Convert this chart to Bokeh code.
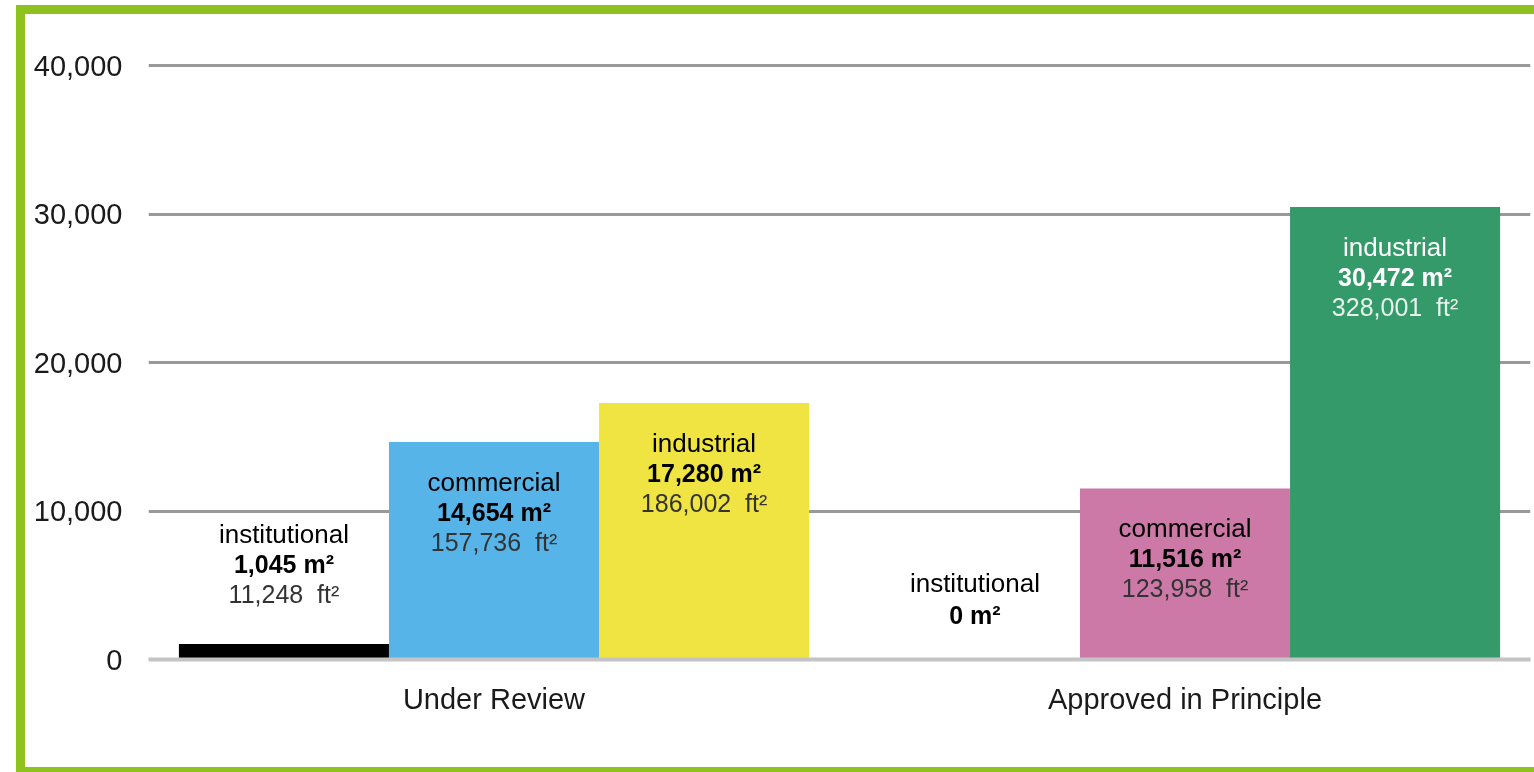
from bokeh.plotting import figure
from bokeh.models import FactorRange, FixedTicker, Span, ColumnDataSource, NumeralTickFormatter
from bokeh.transform import dodge
from bokeh.core.properties import value
from bokeh.embed import file_html
from bokeh.resources import INLINE

# ---- data ----
groups = ["Under Review", "Approved in Principle"]
types = ["institutional", "commercial", "industrial"]
under_review_m2 = [1045, 14654, 17280]
under_review_ft2 = [11248, 157736, 186002]
approved_m2 = [0, 11516, 30472]
approved_ft2 = [None, 123958, 328001]
y_ticks = [0, 10000, 20000, 30000, 40000]

# ---- style ----
under_review_colors = ["#000000", "#56b4e9", "#f0e442"]
approved_colors = ["#ffffff", "#cc79a7", "#359a69"]
under_review_text = ["#000000", "#000000", "#000000"]
approved_text = ["#000000", "#000000", "#ffffff"]
under_review_sub = ["#333333", "#333333", "#333333"]
approved_sub = ["#333333", "#333333", "#e6f2ec"]
FONT = "Liberation Sans"
BORDER = "#8dc21f"
offsets = [-0.304, 0.0, 0.304]
bar_w = 0.304

p = figure(x_range=FactorRange(*groups), y_range=(-269, 42357),
           width=1518, height=771, output_backend="svg", toolbar_location=None,
           min_border_left=123, min_border_right=13, min_border_top=16, min_border_bottom=122)
p.x_range.range_padding = 0
p.outline_line_color = None
p.background_fill_color = "white"
p.border_fill_color = "white"
p.xgrid.grid_line_color = None
p.ygrid.ticker = FixedTicker(ticks=y_ticks)
p.ygrid.grid_line_color = "#999999"
p.ygrid.grid_line_width = 3
p.yaxis.ticker = FixedTicker(ticks=y_ticks)
p.yaxis.formatter = NumeralTickFormatter(format="0,0")
for ax in (p.xaxis[0], p.yaxis[0]):
    ax.axis_line_color = None
    ax.major_tick_line_color = None
    ax.minor_tick_line_color = None
    ax.major_tick_out = 0
    ax.major_tick_in = 0
    ax.major_label_text_font = FONT
    ax.major_label_text_color = "#1a1a1a"
p.yaxis.major_label_text_font_size = "29px"
p.yaxis.major_label_standoff = 26
p.xaxis.major_label_text_font_size = "29px"
p.xaxis.major_label_standoff = 19

scale_px = 633 / (42357 + 269)

for i, t in enumerate(types):
    m2 = [under_review_m2[i], approved_m2[i]]
    ft2 = [under_review_ft2[i], approved_ft2[i]]
    cols = [under_review_colors[i], approved_colors[i]]
    tcols = [under_review_text[i], approved_text[i]]
    scols = [under_review_sub[i], approved_sub[i]]
    l1, l2, l3, o1, o2, o3 = [], [], [], [], [], []
    for v, f in zip(m2, ft2):
        l1.append(t)
        l2.append(f"{v:,} m\u00b2")
        l3.append(f"{f:,}\u00a0 ft\u00b2" if f is not None else "")
        inside = v * scale_px > 150
        if inside:
            o1.append(40); o2.append(70); o3.append(100)
        elif f is not None:
            o1.append(-110); o2.append(-80); o3.append(-50)
        else:
            o1.append(-77); o2.append(-45); o3.append(0)
    src = ColumnDataSource(dict(group=groups, m2=m2, color=cols, tcol=tcols, scol=scols,
                                l1=l1, l2=l2, l3=l3, o1=o1, o2=o2, o3=o3))
    p.vbar(x=dodge("group", offsets[i], range=p.x_range), top="m2", width=bar_w,
           source=src, fill_color="color", line_color=None)
    p.text(x=dodge("group", offsets[i], range=p.x_range), y="m2", text="l1", y_offset="o1",
           source=src, text_color="tcol", text_font=value(FONT), text_font_size="26px",
           text_align="center", text_baseline="middle")
    p.text(x=dodge("group", offsets[i], range=p.x_range), y="m2", text="l2", y_offset="o2",
           source=src, text_color="tcol", text_font=value(FONT), text_font_size="25px",
           text_font_style="bold", text_align="center", text_baseline="middle")
    p.text(x=dodge("group", offsets[i], range=p.x_range), y="m2", text="l3", y_offset="o3",
           source=src, text_color="scol", text_font=value(FONT), text_font_size="25px",
           text_align="center", text_baseline="middle")

p.add_layout(Span(location=0, dimension="width", line_color="#c4c4c4", line_width=4,
                  level="overlay"))

p.styles = {"position": "fixed", "left": "16px", "top": "5px",
            "border-left": f"9px solid {BORDER}", "border-top": f"9px solid {BORDER}",
            "border-bottom": f"9px solid {BORDER}"}

open("out.html", "w").write(file_html(p, INLINE))
